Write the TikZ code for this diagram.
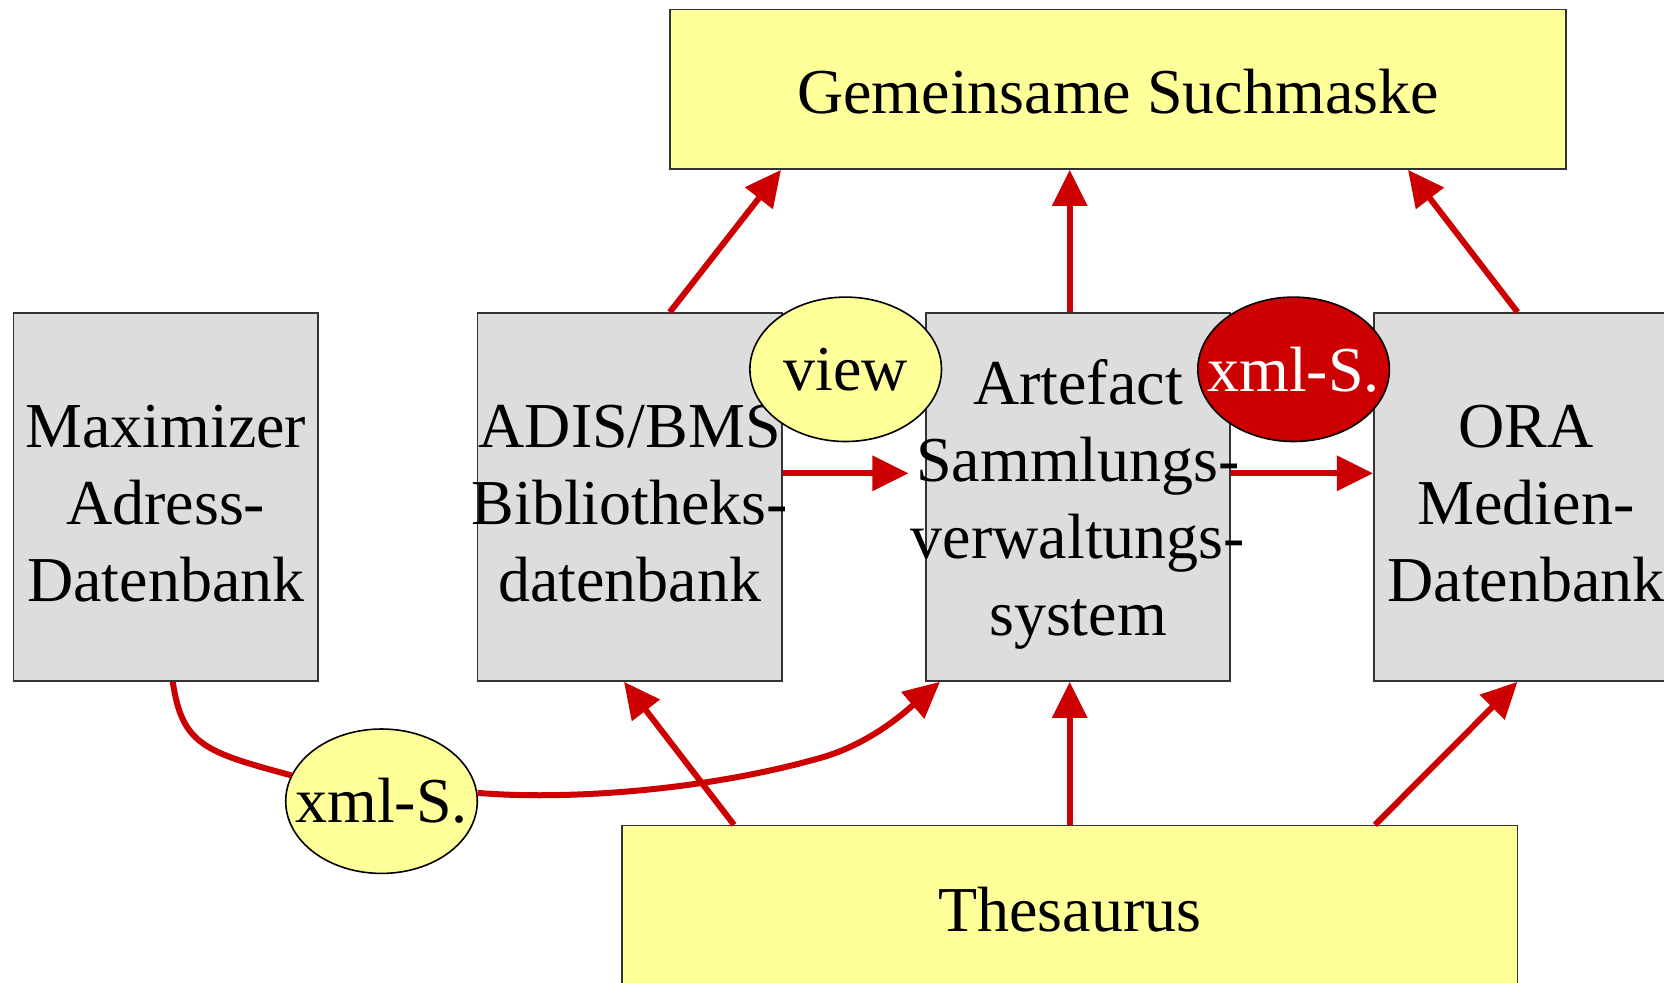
\documentclass[tikz,border=0pt]{standalone}
\usepackage{fontspec}
\setmainfont{Liberation Serif}
\usetikzlibrary{shapes.geometric,arrows.meta,calc}
\definecolor{boxgrey}{HTML}{DDDDDD}
\definecolor{lyellow}{HTML}{FFFF99}
\definecolor{dred}{HTML}{CC0000}
\newcommand\ovl[1]{\makebox[0pt]{#1}}
\newcommand\topstrut{\rule{0pt}{28pt}}
\begin{document}
\begin{tikzpicture}[x=0.5pt,y=-0.5pt,
  font=\fontsize{32pt}{38.5pt}\selectfont,
  greybox/.style={draw=black!80, line width=0.8pt, fill=boxgrey, text width=152.25pt, minimum height=184pt, align=center, inner sep=0pt},
  yellowbox/.style={draw=black!80, line width=0.8pt, fill=lyellow, align=center, inner sep=0pt},
  bubble/.style={ellipse, draw=black, line width=0.8pt, minimum width=95.8pt, minimum height=72.2pt, inner sep=0pt},
  link/.style={draw=dred, line width=3pt, -{Triangle[length=18pt,width=17pt]}},
  plainlink/.style={draw=dred, line width=3pt}
  ]
\useasboundingbox (0,0) rectangle (1664,982);
\clip (0,0) rectangle (1664,982);

\node[yellowbox, minimum width=448pt, minimum height=79.75pt] (smask) at (1118,89.3) {\rule{0pt}{25pt}Gemeinsame Suchmaske};
\node[greybox] (max) at (165.8,497) {\topstrut Maximizer\\Adress-\\Datenbank};
\node[greybox] (adis) at (629.75,497) {\topstrut ADIS/BMS\\\ovl{Bibliotheks-}\\datenbank};
\node[greybox] (art) at (1078,497) {\rule{0pt}{29.5pt}Artefact\\\ovl{Sammlungs-}\\\ovl{verwaltungs-}\\system};
\node[greybox] (ora) at (1526,497) {\topstrut ORA\\Medien-\\\ovl{Datenbank}};
\node[yellowbox, minimum width=447.75pt, minimum height=83.9pt] (thes) at (1069.75,909.5) {Thesaurus};

\node[bubble, fill=lyellow] (view) at (845.7,369.3) {\ovl{view}};
\node[bubble, fill=dred, text=white] (xmlr) at (1293.6,369.3) {\ovl{xml-S.}};
\node[bubble, fill=lyellow] (xmly) at (381.5,801.2) {\ovl{xml-S.}};

\draw[link] ($(adis.north)+(40,0)$) -- ($(smask.south)+(-337,0)$);
\draw[link] ($(art.north)+(-8.25,0)$) -- ($(smask.south)+(-48.25,0)$);
\draw[link] ($(ora.north)+(-8.5,0)$) -- ($(smask.south)+(290,0)$);
\draw[link] ($(adis.east)+(0,-23.7)$) -- ($(art.west)+(-16.5,-23.7)$);
\draw[link] ($(art.east)+(0,-23.7)$) -- ($(ora.west)+(0,-23.7)$);
\draw[link] ($(thes.north)+(-335.75,0)$) -- ($(adis.south)+(-5.75,0)$);
\draw[link] (thes.north) -- ($(art.south)+(-8.25,0)$);
\draw[link] ($(thes.north)+(305.25,0)$) -- ($(ora.south)+(-8.5,0)$);

\draw[plainlink] ($(max.south)+(7,0)$) .. controls (182,745) and (205,752) .. (xmly.164);
\draw[link] (xmly.5) .. controls (560,800) and (700,792) .. (820,758)
  .. controls (870,744) and (905,712) .. ($(art.south west)+(15,0)$);
\end{tikzpicture}
\end{document}
